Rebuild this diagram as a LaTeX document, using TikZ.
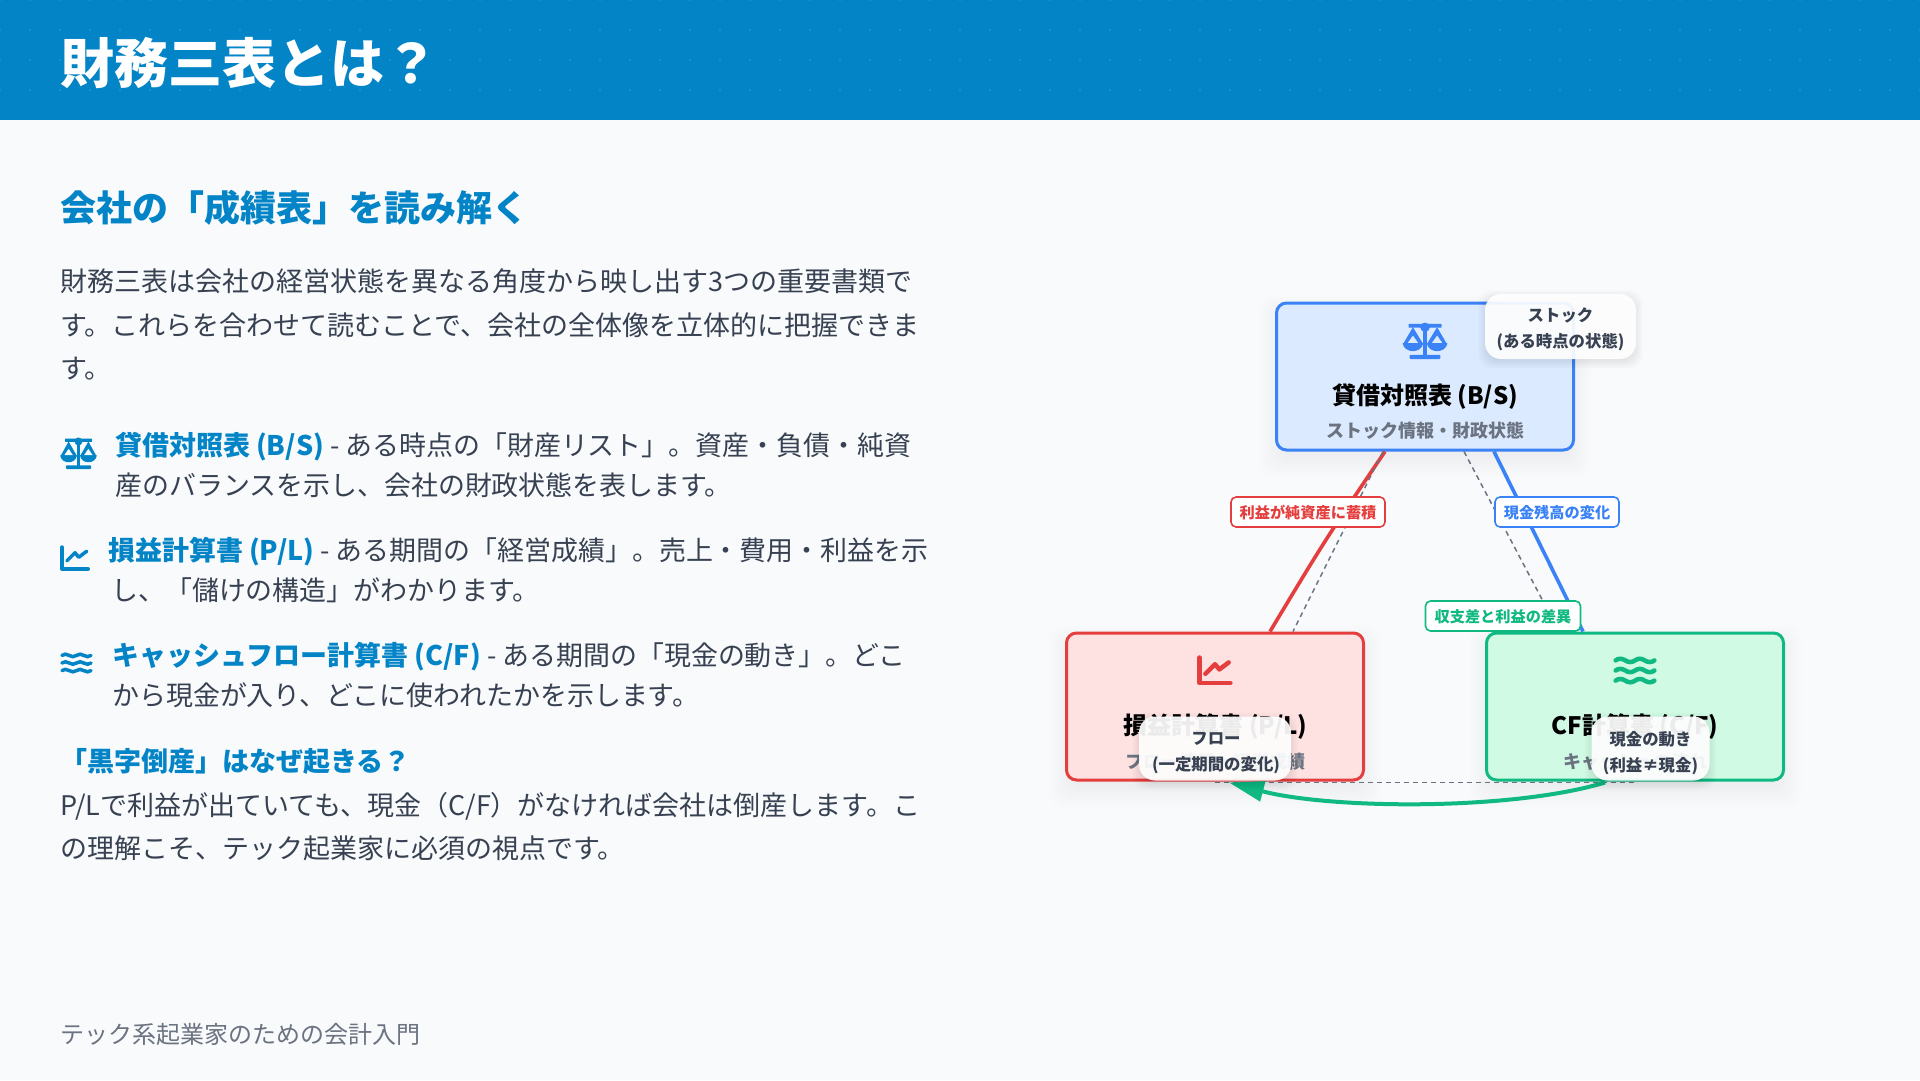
\documentclass[tikz,border=0pt]{standalone}
\usepackage{fontspec}
\setmainfont{Noto Sans CJK JP}
\usetikzlibrary{calc,arrows.meta}
\definecolor{bgc}{HTML}{F8FAFC}
\definecolor{accent}{HTML}{0284C7}
\definecolor{bodyc}{HTML}{374151}
\definecolor{mutedc}{HTML}{6B7280}
\definecolor{bluel}{HTML}{3B82F6}
\definecolor{bluef}{HTML}{DBEAFE}
\definecolor{redl}{HTML}{E53E3E}
\definecolor{redf}{HTML}{FEE2E2}
\definecolor{greenl}{HTML}{10B981}
\definecolor{greenf}{HTML}{D1FAE5}
\tikzset{
  line/.style={anchor=base west,inner sep=0pt,text=bodyc,font=\fontsize{27pt}{30pt}\selectfont},
  itemline/.style={line,font=\fontsize{26.95pt}{30pt}\selectfont},
  boxn/.style={draw=#1,line width=3pt,rounded corners=10pt,minimum width=297pt,minimum height=147pt,inner sep=0pt},
  boxtitle/.style={inner sep=0pt,text=black,font=\fontsize{24pt}{28pt}\selectfont\bfseries},
  boxsub/.style={inner sep=0pt,text=mutedc,font=\fontsize{18pt}{22pt}\selectfont\bfseries},
  badge/.style={fill=white,fill opacity=.92,rounded corners=16pt,inner sep=0pt},
  badgetext/.style={inner sep=0pt,text=bodyc,align=center,font=\fontsize{16.4pt}{26pt}\selectfont\bfseries},
  tag/.style={draw=#1,fill=white,line width=1.6pt,rounded corners=5pt,inner sep=0pt,text depth=0pt,text=#1,font=\fontsize{15.2pt}{18pt}\selectfont\bfseries},
  dashedl/.style={draw=mutedc,line width=1.5pt,dash pattern=on 5pt off 4pt},
}
% soft shadow: centre x, centre y, width, height, y offset, spread, alpha
\newcommand\softshadow[7]{%
  \foreach \i in {1,...,12}{%
    \fill[black,opacity=#7,rounded corners=14pt]
      ({#1-#3/2-#6*\i/12},{#2-#4/2+#5-#6*\i/12}) rectangle ({#1+#3/2+#6*\i/12},{#2+#4/2+#5+#6*\i/12});
  }}
% icons: centre x,y; half width W, half height H of the glyph; colour
\newcommand\balanceicon[5]{%
  \begin{scope}[shift={(#1,#2)},x=#3pt,y=-#4pt]
    \fill[#5] (-.11,-.85) rectangle (.11,.85);
    \fill[#5,rounded corners=.5pt] (-.75,-.9) rectangle (.75,-.7);
    \fill[#5] (0,-.72) circle [x radius=.22,y radius=.25];
    \fill[#5,rounded corners=1pt] (-.7,.77) rectangle (.7,1);
    \foreach \s in {-1,1}{%
      \fill[#5,even odd rule] (\s*.55,-.72)--(\s*.08,.2)--(\s*1,.2)--cycle
        (\s*.55,-.28)--(\s*.3,.14)--(\s*.8,.14)--cycle;
      \fill[#5] (\s*.08,.14) .. controls (\s*.15,.72) and (\s*.95,.72) .. (\s*1.02,.14) -- cycle;
    }
  \end{scope}}
% centre x,y; half width; stroke; colour
\newcommand\charticon[5]{%
  \begin{scope}[shift={(#1,#2)},x=#3pt,y=-#3pt]
    \draw[#5,line width=#4pt,line cap=round,line join=round]
      (-.88,-.73)--(-.88,.73)--(.88,.73);
    \draw[#5,line width=#4pt,line cap=round,line join=round]
      (-.55,.2)--(0,-.35)--(.25,-.05)--(.78,-.45);
  \end{scope}}
% centre x,y; half width; stroke; colour
\newcommand\waveicon[5]{%
  \begin{scope}[shift={(#1,#2)},x=#3pt,y=-#3pt]
    \foreach \o in {-.46,0,.46}{%
      \draw[#5,line width=#4pt,line cap=round]
        (-.88,\o) .. controls (-.75,\o-.1) and (-.6,\o-.1) .. (-.44,\o)
        .. controls (-.3,\o+.1) and (-.14,\o+.1) .. (0,\o)
        .. controls (.14,\o-.1) and (.3,\o-.1) .. (.44,\o)
        .. controls (.6,\o+.1) and (.75,\o+.1) .. (.88,\o);
    }
  \end{scope}}
\begin{document}
\begin{tikzpicture}[x=1pt,y=-1pt]
\useasboundingbox (0,0) rectangle (1920,1080);
\fill[bgc] (0,0) rectangle (1920,1080);
\fill[accent] (0,0) rectangle (1920,120);
\foreach \gx in {0,30,...,1920}{\foreach \gy in {0,30,60,90}{%
  \fill[white,opacity=.13] (\gx,\gy) circle [radius=1.2];}}

\node[anchor=base west,inner sep=0pt,text=white,font=\fontsize{54pt}{60pt}\selectfont\bfseries] (title) at (60,83) {財務三表とは？};
\node[anchor=base west,inner sep=0pt,text=accent,font=\fontsize{36pt}{42pt}\selectfont\bfseries] (subhead) at (60,221.5) {会社の「成績表」を読み解く};

\node[line] (p1) at (60,291) {財務三表は会社の経営状態を異なる角度から映し出す3つの重要書類で};
\node[line] (p2) at (60,335) {す。これらを合わせて読むことで、会社の全体像を立体的に把握できま};
\node[line] (p3) at (60,378) {す。};

\balanceicon{78.5}{453}{18}{16}{accent}
\node[itemline] (i1a) at (115,455) {{\bfseries\color{accent}貸借対照表 (B/S)} - ある時点の「財産リスト」。資産・負債・純資};
\node[itemline] (i1b) at (115,495) {産のバランスを示し、会社の財政状態を表します。};

\charticon{75}{558}{15}{3.5}{accent}
\node[itemline] (i2a) at (108,560) {{\bfseries\color{accent}損益計算書 (P/L)} - ある期間の「経営成績」。売上・費用・利益を示};
\node[itemline] (i2b) at (111,600) {し、「儲けの構造」がわかります。};

\waveicon{76.5}{663}{16.5}{3.5}{accent}
\node[itemline] (i3a) at (112,665) {{\bfseries\color{accent}キャッシュフロー計算書 (C/F)} - ある期間の「現金の動き」。どこ};
\node[itemline] (i3b) at (112,705) {から現金が入り、どこに使われたかを示します。};

\node[anchor=base west,inner sep=0pt,text=accent,font=\fontsize{27pt}{30pt}\selectfont\bfseries] (q) at (60,771) {「黒字倒産」はなぜ起きる？};
\node[line] (a1) at (60,815) {P/Lで利益が出ていても、現金（C/F）がなければ会社は倒産します。こ};
\node[line] (a2) at (60,858) {の理解こそ、テック起業家に必須の視点です。};

\node[anchor=base west,inner sep=0pt,text=mutedc,font=\fontsize{24pt}{28pt}\selectfont] (foot) at (60,1043) {テック系起業家のための会計入門};

% shadows
\softshadow{1425}{376.5}{285}{135}{10}{24}{.005}
\softshadow{1215}{706.5}{285}{135}{10}{24}{.005}
\softshadow{1635}{706.5}{285}{135}{10}{24}{.005}

% boxes
\node[boxn=bluel,fill=bluef] (bs) at (1425,376.5) {};
\node[boxn=redl,fill=redf] (pl) at (1215,706.5) {};
\node[boxn=greenl,fill=greenf] (cf) at (1635,706.5) {};

\balanceicon{1425}{340.5}{22}{18.5}{bluel}
\node[boxtitle] (bst) at (1425,397) {貸借対照表 (B/S)};
\node[boxsub] (bss) at (1425,431) {ストック情報・財政状態};

\charticon{1215}{670.3}{17.5}{4.5}{redl}
\node[boxtitle] (plt) at (1215.5,727) {損益計算書 (P/L)};
\node[boxsub] (pls) at (1215,762) {フロー情報・経営成績};

\waveicon{1635}{670.5}{22}{4.5}{greenl}
\node[boxtitle] (cft) at (1635,727) {CF計算書 (C/F)};
\node[boxsub] (cfs) at (1635,762) {キャッシュの流れ};

% connectors
\draw[redl,line width=3.6pt] ([xshift=-40pt]bs.south) .. controls (1325,540) .. ([xshift=55pt]pl.north);
\draw[bluel,line width=3.6pt] ([xshift=69pt]bs.south) -- ([xshift=-52pt]cf.north);
\draw[dashedl] ([xshift=-42pt]bs.south) -- ([xshift=78pt]pl.north);
\draw[dashedl] ([xshift=39pt]bs.south) -- ([xshift=-76pt]cf.north);
\draw[dashedl] ([yshift=-1pt]pl.south) -- ([yshift=-1pt]cf.south);
\draw[greenl,line width=4pt,-{Triangle[length=35pt,width=20pt]}] ([xshift=-30pt,yshift=-1pt]cf.south) .. controls (1510,811) and (1330,809) .. ([xshift=14pt,yshift=-1pt]pl.south);

% tags
\node[tag=redl,minimum width=154pt,minimum height=30pt] (t1) at (1308,512) {利益が純資産に蓄積};
\node[tag=bluel,minimum width=124pt,minimum height=30pt] (t2) at (1557,512) {現金残高の変化};
\node[tag=greenl,minimum width=155pt,minimum height=30pt] (t3) at (1503,616) {収支差と利益の差異};

% badges
\softshadow{1560.5}{326.5}{145}{59}{3}{10}{.006}
\node[badge,minimum width=151pt,minimum height=65pt] (b1) at (1560.5,326.5) {};
\node[badgetext] (b1t) at ([yshift=-2.5pt]b1.center) {ストック\\(ある時点の状態)};
\softshadow{1215}{748.5}{146}{58}{3}{10}{.006}
\node[badge,minimum width=152pt,minimum height=64pt] (b2) at (1215,748.5) {};
\node[badgetext] (b2t) at ([yshift=-5pt,xshift=1pt]b2.center) {フロー\\(一定期間の変化)};
\softshadow{1650.5}{748.5}{112}{58}{3}{10}{.006}
\node[badge,minimum width=118pt,minimum height=64pt] (b3) at (1650.5,748.5) {};
\node[badgetext] (b3t) at ([yshift=-4.5pt]b3.center) {現金の動き\\(利益≠現金)};
\end{tikzpicture}
\end{document}
